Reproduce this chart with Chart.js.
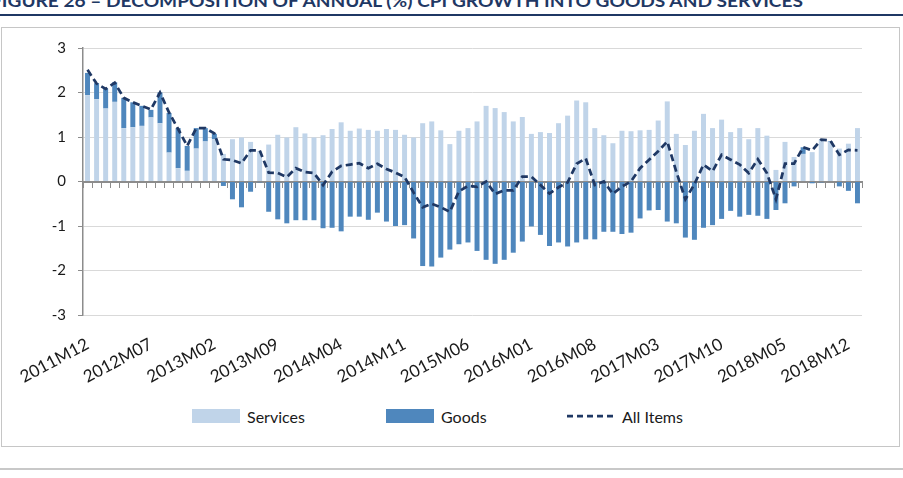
<!DOCTYPE html>
<html>
<head>
<meta charset="utf-8">
<script src="https://cdn.jsdelivr.net/npm/chart.js@4.4.1/dist/chart.umd.min.js"></script>
<style>
  html, body { margin: 0; padding: 0; background: #fff; }
  body { width: 903px; height: 478px; position: relative; overflow: hidden; font-family: Lato, "Open Sans", sans-serif; }
  #title { position: absolute; left: -9px; top: -8px; font: bold 17px/17px Lato, sans-serif; color: #1f3864; white-space: nowrap; transform-origin: left top; }
  #rule { position: absolute; left: 0; top: 14px; width: 903px; height: 2px; background: #1f3864; }
  #box { position: absolute; left: 1px; top: 27px; width: 897px; height: 418px; border: 1px solid #c6c6c6; }
  #bottomRule { position: absolute; left: 0; top: 468px; width: 903px; height: 2px; background: #c8c8c8; }
  #wrap { position: absolute; left: 0; top: 27px; width: 903px; height: 370px; }
  .item { position: absolute; top: 408px; height: 16px; display: flex; align-items: center; font-size: 16px; color: #1a1a1a; }
  .item .sw { width: 48px; height: 14px; margin-right: 7px; }
</style>
</head>
<body>
<div id="title">FIGURE 26 – DECOMPOSITION OF ANNUAL (%) CPI GROWTH INTO GOODS AND SERVICES</div>
<div id="rule"></div>
<div id="box"></div>
<div id="wrap"><canvas id="cpiChart" width="903" height="370"></canvas></div>
<div id="legend"></div>
<div id="bottomRule"></div>
<script>
const months = [
  "2011M12",
  "2012M01","2012M02","2012M03","2012M04","2012M05","2012M06","2012M07","2012M08","2012M09","2012M10","2012M11","2012M12",
  "2013M01","2013M02","2013M03","2013M04","2013M05","2013M06","2013M07","2013M08","2013M09","2013M10","2013M11","2013M12",
  "2014M01","2014M02","2014M03","2014M04","2014M05","2014M06","2014M07","2014M08","2014M09","2014M10","2014M11","2014M12",
  "2015M01","2015M02","2015M03","2015M04","2015M05","2015M06","2015M07","2015M08","2015M09","2015M10","2015M11","2015M12",
  "2016M01","2016M02","2016M03","2016M04","2016M05","2016M06","2016M07","2016M08","2016M09","2016M10","2016M11","2016M12",
  "2017M01","2017M02","2017M03","2017M04","2017M05","2017M06","2017M07","2017M08","2017M09","2017M10","2017M11","2017M12",
  "2018M01","2018M02","2018M03","2018M04","2018M05","2018M06","2018M07","2018M08","2018M09","2018M10","2018M11","2018M12",
  "2019M01"
];

const tickLabels = ["2011M12","2012M07","2013M02","2013M09","2014M04","2014M11","2015M06",
  "2016M01","2016M08","2017M03","2017M10","2018M05","2018M12"];

const services = [
  1.94, 1.85, 1.64, 1.79, 1.20, 1.22, 1.25, 1.44, 1.31, 0.65,
  0.30, 0.24, 0.74, 0.90, 0.95, 0.62, 0.95, 0.99, 0.89, 0.68,
  0.83, 1.05, 0.99, 1.22, 1.08, 0.99, 1.04, 1.18, 1.33, 1.14,
  1.19, 1.16, 1.14, 1.18, 1.16, 1.05, 0.99, 1.31, 1.35, 1.15,
  0.84, 1.14, 1.20, 1.35, 1.70, 1.65, 1.56, 1.35, 1.45, 1.07,
  1.11, 1.09, 1.31, 1.48, 1.82, 1.78, 1.20, 1.04, 0.86, 1.14,
  1.13, 1.15, 1.16, 1.37, 1.80, 1.07, 0.82, 1.14, 1.52, 1.20,
  1.39, 1.11, 1.20, 0.95, 1.20, 1.03, 0.26, 0.89, 0.55, 0.62,
  0.66, 0.94, 0.88, 0.74, 0.85, 1.20
];

const goods = [
  0.50, 0.36, 0.45, 0.44, 0.68, 0.56, 0.45, 0.17, 0.69, 0.89,
  0.90, 0.56, 0.46, 0.30, 0.12, -0.10, -0.40, -0.58, -0.23, -0.02,
  -0.68, -0.85, -0.94, -0.87, -0.87, -0.87, -1.05, -1.04, -1.12, -0.79,
  -0.79, -0.86, -0.70, -0.90, -1.00, -0.98, -1.28, -1.90, -1.91, -1.71,
  -1.53, -1.41, -1.37, -1.56, -1.76, -1.85, -1.76, -1.60, -1.35, -1.01,
  -1.20, -1.45, -1.37, -1.46, -1.37, -1.30, -1.30, -1.13, -1.13, -1.18,
  -1.15, -0.83, -0.65, -0.64, -0.90, -0.94, -1.26, -1.31, -1.04, -0.98,
  -0.84, -0.66, -0.79, -0.75, -0.77, -0.84, -0.64, -0.49, -0.11, 0.15,
  -0.04, -0.02, 0.02, -0.11, -0.21, -0.49
];

const allItems = [
  2.51, 2.20, 2.08, 2.22, 1.88, 1.78, 1.70, 1.62, 2.00, 1.55,
  1.18, 0.80, 1.20, 1.20, 1.08, 0.50, 0.48, 0.41, 0.70, 0.70,
  0.20, 0.19, 0.10, 0.30, 0.21, 0.19, -0.08, 0.22, 0.35, 0.38,
  0.41, 0.30, 0.40, 0.28, 0.20, 0.10, -0.25, -0.58, -0.50, -0.58,
  -0.68, -0.22, -0.10, -0.12, 0.00, -0.28, -0.20, -0.20, 0.11, 0.11,
  -0.08, -0.27, -0.13, -0.02, 0.40, 0.52, -0.08, 0.00, -0.28, -0.11,
  0.00, 0.30, 0.49, 0.68, 0.90, 0.22, -0.40, -0.06, 0.38, 0.23,
  0.60, 0.49, 0.38, 0.19, 0.50, 0.19, -0.40, 0.40, 0.40, 0.77,
  0.70, 0.94, 0.92, 0.60, 0.71, 0.70
];

const lightBlue = "#c0d4e9";
const midBlue = "#4f87bd";
const navy = "#1f3864";
const axisGrey = "#8c8c8c";

// fit the clipped title to the width it has in the report
const title = document.getElementById("title");
title.style.transform = "scaleX(" + (812 / title.getBoundingClientRect().width) + ")";

const chart = new Chart(document.getElementById("cpiChart"), {
  type: "bar",
  data: {
    labels: months,
    datasets: [
      { label: "Services", data: services, backgroundColor: lightBlue, stack: "cpi", order: 1,
        xAxisID: "x", barPercentage: 0.55, categoryPercentage: 1 },
      { label: "Goods", data: goods, backgroundColor: midBlue, stack: "cpi", order: 1,
        xAxisID: "x", barPercentage: 0.55, categoryPercentage: 1 },
      { type: "line", label: "All Items", data: allItems, borderColor: navy, backgroundColor: navy,
        borderWidth: 2.75, borderDash: [7, 4], pointRadius: 0, fill: false, tension: 0,
        stack: "line", order: 0, xAxisID: "x" }
    ]
  },
  options: {
    responsive: false,
    animation: false,
    layout: { padding: { top: 21, left: 0, right: 41, bottom: 0 } },
    plugins: { legend: { display: false }, tooltip: { enabled: false } },
    scales: {
      x: {
        stacked: true,
        offset: true,
        grid: { display: false, drawTicks: false },
        border: { display: false },
        ticks: {
          autoSkip: false, minRotation: 28, maxRotation: 28, padding: 19,
          font: { family: "Lato", size: 17 }, color: "#1a1a1a",
          callback: function (v) {
            const l = this.getLabelForValue(v);
            return tickLabels.includes(l) ? l : "";
          }
        },
        afterFit: s => { s.height = 82; }
      },
      x0: {
        type: "category",
        axis: "x",
        position: { y: 0 },
        offset: true,
        grid: { offset: true, drawOnChartArea: false, tickLength: 5, color: axisGrey, lineWidth: 1 },
        border: { color: axisGrey, width: 2 },
        ticks: { display: false }
      },
      y: {
        stacked: true,
        min: -3,
        max: 3,
        ticks: { stepSize: 1, padding: 12, font: { family: "Lato", size: 15 }, color: "#1a1a1a" },
        grid: { color: "#d9d9d9", tickLength: 5, tickColor: axisGrey },
        border: { color: axisGrey, width: 1.5 },
        afterFit: s => { s.width = 83; }
      }
    }
  }
});

// legend under the chart, built from the datasets
const legendLeft = [192, 386, 567];
const legend = document.getElementById("legend");
chart.data.datasets.forEach((ds, i) => {
  const item = document.createElement("div");
  item.className = "item";
  item.style.left = legendLeft[i] + "px";
  let sw;
  if (ds.type === "line") {
    sw = '<svg class="sw" width="48" height="14"><line x1="0" y1="7" x2="48" y2="7" stroke="' + ds.borderColor +
      '" stroke-width="' + ds.borderWidth + '" stroke-dasharray="6 4"/></svg>';
  } else {
    sw = '<div class="sw" style="background:' + ds.backgroundColor + '"></div>';
  }
  item.innerHTML = sw + "<span>" + ds.label + "</span>";
  legend.appendChild(item);
});
</script>
</body>
</html>
